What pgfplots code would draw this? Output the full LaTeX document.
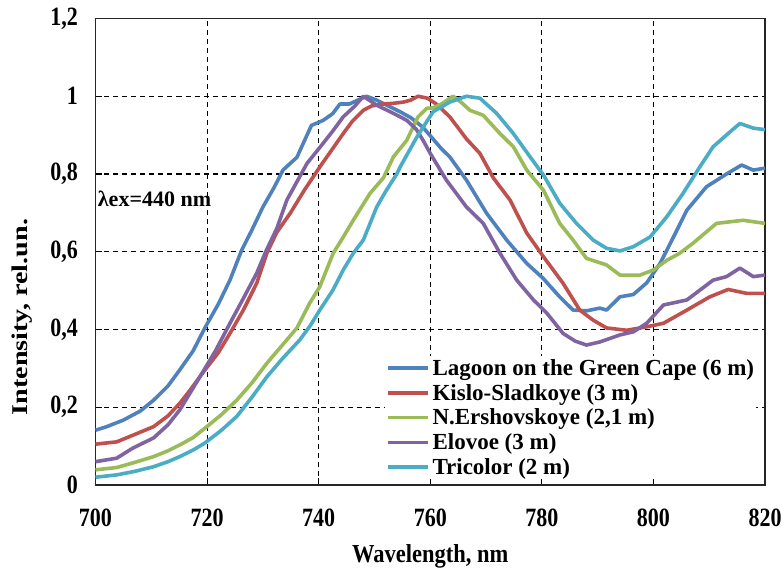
\documentclass[border=0pt]{standalone}
\usepackage{pgfplots}
\pgfplotsset{compat=1.18}
\usepackage{fontspec}
\setmainfont{Liberation Serif}
\definecolor{cBlue}{HTML}{4F81BD}
\definecolor{cRed}{HTML}{C0504D}
\definecolor{cGreen}{HTML}{9BBB59}
\definecolor{cPurple}{HTML}{8064A2}
\definecolor{cCyan}{HTML}{4BACC6}
\begin{document}
\begin{tikzpicture}
\begin{axis}[
  width=669.5pt, height=466.5pt, scale only axis,
  xmin=700, xmax=820, ymin=0, ymax=1.2,
  xtick={700,720,740,760,780,800,820},
  ytick={0,0.2,0.4,0.6,0.8,1,1.2},
  /pgf/number format/use comma,
  /pgf/number format/assume math mode=true,
  xticklabel={\scalebox{1}[1.2]{\pgfmathprintnumber{\tick}}},
  yticklabel={\scalebox{1}[1.2]{\pgfmathprintnumber{\tick}}},
  grid=major,
  major grid style={black, line width=1.1pt, dash pattern=on 5pt off 4pt},
  axis line style={line width=1.4pt, black!85},
  tick align=inside, xtick pos=bottom, ytick pos=left,
  major tick length=7pt,
  tick style={black, line width=1.1pt},
  ticklabel style={font=\bfseries\fontsize{22}{22}\selectfont},
  xticklabel style={yshift=-20pt},
  yticklabel style={xshift=-14pt},
  xlabel={\scalebox{1}[1.15]{Wavelength, nm}},
  ylabel={\scalebox{1.25}[1]{Intensity, rel.un.}},
  label style={font=\bfseries\fontsize{22.5}{22.5}\selectfont},
  xlabel style={at={(axis description cs:0.5,-0.152)}, anchor=center},
  ylabel style={at={(axis description cs:-0.11,0.36)}, anchor=center},
  legend style={at={(axis description cs:0.432,0.276)}, anchor=north west,
    draw=none, fill=white, font=\bfseries\fontsize{23}{23}\selectfont,
    inner xsep=1pt, inner ysep=2pt, row sep=5.3pt, column sep=2pt,
    nodes={inner sep=1pt}},
  legend cell align=left,
  legend image code/.code={\draw[#1] (0pt,0pt) -- (40pt,0pt);},
  every axis plot/.append style={line width=3.6pt, line join=round},
]
\addplot[cBlue] coordinates {
(700,0.141)(702,0.150)(705,0.167)(708,0.190)(710.4,0.218)(713,0.255)(715.1,0.296)(717.5,0.345)(719.6,0.404)(722,0.465)(724.1,0.527)(726.2,0.604)(728,0.655)(730,0.715)(732,0.765)(733.6,0.81)(736.1,0.843)(738.7,0.925)(740.8,0.938)(742.5,0.955)(743.8,0.98)(745.5,0.98)(747,0.99)(748.6,1.0)(750.4,0.99)(752.5,0.975)(754.6,0.96)(756.5,0.945)(758.7,0.92)(760.5,0.89)(762,0.865)(763.5,0.844)(766.5,0.784)(770.1,0.699)(773.7,0.63)(777.3,0.57)(780.2,0.532)(783.2,0.484)(785.6,0.45)(788,0.448)(790.4,0.455)(791.6,0.45)(794,0.484)(796.4,0.49)(798.8,0.52)(801.2,0.57)(803.6,0.638)(806,0.707)(809.5,0.767)(813.1,0.80)(815.8,0.823)(817.9,0.81)(820,0.815)};
\addlegendentry{Lagoon on the Green Cape (6 m)}
\addplot[cRed] coordinates {
(700,0.105)(703.8,0.111)(706.7,0.128)(710.4,0.15)(713,0.178)(715.1,0.21)(717,0.245)(719.3,0.29)(722,0.34)(724.1,0.39)(726.5,0.45)(728.9,0.519)(730.7,0.596)(732.5,0.65)(734.9,0.699)(737.5,0.76)(740.2,0.818)(742.5,0.865)(744.4,0.904)(746,0.935)(748,0.964)(749.5,0.975)(751.6,0.98)(753.5,0.982)(755.2,0.985)(756.5,0.99)(757.8,1.0)(759.5,0.995)(761.1,0.98)(763.5,0.947)(766.5,0.89)(768.9,0.853)(771.3,0.79)(774.3,0.733)(777.3,0.648)(780.3,0.587)(783.8,0.519)(786.8,0.45)(789.2,0.424)(791.6,0.404)(795.2,0.398)(798.8,0.407)(801.8,0.416)(806,0.45)(810.1,0.484)(813.4,0.503)(816.7,0.493)(820,0.493)};
\addlegendentry{Kislo-Sladkoye (3 m)}
\addplot[cGreen] coordinates {
(700,0.039)(703.8,0.045)(707,0.058)(710.4,0.073)(713,0.088)(715.1,0.103)(717.5,0.122)(719.6,0.146)(722.5,0.18)(725.3,0.218)(728,0.262)(730.7,0.313)(733.5,0.36)(736.1,0.404)(738.4,0.468)(740.2,0.51)(742.6,0.596)(744.5,0.64)(746.2,0.681)(749.2,0.75)(751.6,0.79)(753.4,0.844)(755.8,0.887)(757.8,0.947)(759.4,0.969)(760.5,0.97)(762,0.98)(764.1,1.0)(765.5,0.985)(767.1,0.964)(769.5,0.951)(772.5,0.904)(774.9,0.87)(777.3,0.81)(780.3,0.758)(783.2,0.673)(785.6,0.63)(788,0.583)(791.6,0.566)(794,0.54)(797.6,0.54)(800,0.553)(802.4,0.578)(804.7,0.596)(807.1,0.622)(811.3,0.673)(816.1,0.681)(820,0.673)};
\addlegendentry{N.Ershovskoye (2,1 m)}
\addplot[cPurple] coordinates {
(700,0.06)(703.8,0.069)(706.7,0.095)(710.4,0.121)(713,0.155)(715.1,0.193)(718.7,0.278)(721.5,0.345)(724.1,0.416)(726.5,0.48)(728.9,0.545)(730.5,0.60)(732.5,0.66)(734.3,0.733)(737.9,0.827)(740.8,0.879)(742.5,0.91)(744.4,0.947)(746.5,0.975)(748,1.0)(750.4,0.977)(753.4,0.956)(755.8,0.938)(757.5,0.915)(758.7,0.887)(760,0.853)(762.9,0.784)(766.5,0.715)(769.5,0.673)(772.5,0.596)(775.5,0.527)(778.5,0.476)(780.9,0.442)(783.8,0.39)(786,0.37)(788,0.36)(790.4,0.368)(794,0.386)(796.4,0.394)(798.8,0.416)(801.8,0.463)(806,0.476)(810.7,0.527)(813.1,0.536)(815.5,0.558)(817.9,0.536)(820,0.54)};
\addlegendentry{Elovoe (3 m)}
\addplot[cCyan] coordinates {
(700,0.02)(703.8,0.026)(707,0.035)(710.4,0.047)(713,0.06)(715.1,0.073)(717.5,0.09)(719.6,0.108)(722.5,0.14)(725.3,0.176)(728,0.225)(730.7,0.278)(733.5,0.325)(736.6,0.373)(738.5,0.41)(740.2,0.45)(742.5,0.5)(744.4,0.553)(746.2,0.596)(748,0.63)(750.4,0.715)(752,0.755)(754,0.80)(754.6,0.818)(757.6,0.895)(760.5,0.96)(763.5,0.985)(766.5,1.0)(768.9,0.995)(771.9,0.956)(774.9,0.904)(777.9,0.844)(780.3,0.797)(783.2,0.725)(786.2,0.673)(789.2,0.63)(791.6,0.609)(794,0.602)(796.4,0.613)(799.4,0.638)(802.4,0.69)(805.3,0.75)(808.3,0.818)(810.7,0.87)(813.7,0.908)(815.5,0.93)(817.9,0.918)(820,0.914)};
\addlegendentry{Tricolor (2 m)}
\node[anchor=west, inner sep=0pt, font=\bfseries\fontsize{22}{22}\selectfont] at (axis cs:700.4,0.735) {λex=440 nm};
\end{axis}
\pgfresetboundingbox
\path[use as bounding box] (-95.5pt,-88pt) rectangle (688.5pt,485pt);
\end{tikzpicture}
\end{document}
